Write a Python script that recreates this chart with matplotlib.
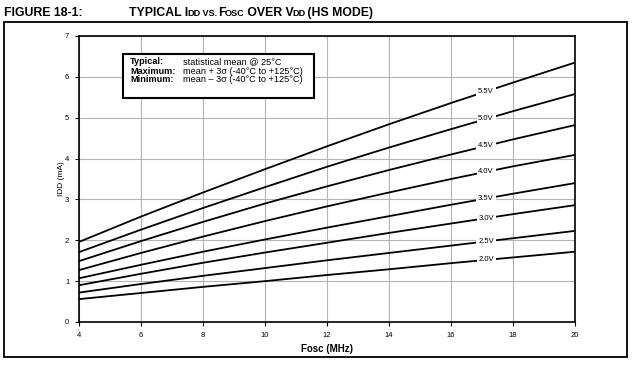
import matplotlib
matplotlib.use("Agg")
import matplotlib.pyplot as plt
from matplotlib.patches import Rectangle
import numpy as np

plt.rcParams['font.family'] = ['Liberation Sans', 'DejaVu Sans']

# Fosc (MHz) and IDD (mA)
fosc = [4, 6, 8, 10, 12, 14, 16, 18, 20]
idd_55 = [1.96, 2.58, 3.17, 3.74, 4.30, 4.84, 5.36, 5.86, 6.35]
idd_50 = [1.71, 2.26, 2.79, 3.30, 3.80, 4.27, 4.72, 5.16, 5.58]
idd_45 = [1.49, 1.98, 2.45, 2.90, 3.32, 3.72, 4.10, 4.47, 4.82]
idd_40 = [1.27, 1.69, 2.09, 2.47, 2.83, 3.17, 3.50, 3.81, 4.09]
idd_35 = [1.07, 1.40, 1.72, 2.02, 2.31, 2.59, 2.87, 3.14, 3.40]
idd_30 = [0.90, 1.18, 1.45, 1.70, 1.94, 2.18, 2.41, 2.64, 2.86]
idd_25 = [0.72, 0.93, 1.13, 1.32, 1.51, 1.69, 1.87, 2.05, 2.23]
idd_20 = [0.56, 0.71, 0.86, 1.00, 1.15, 1.29, 1.44, 1.58, 1.72]

series = [('5.5V', idd_55), ('5.0V', idd_50), ('4.5V', idd_45), ('4.0V', idd_40),
          ('3.5V', idd_35), ('3.0V', idd_30), ('2.5V', idd_25), ('2.0V', idd_20)]

W, H = 633, 365
fig = plt.figure(figsize=(W / 100, H / 100), dpi=100)

# outer frame
fig.patches.append(Rectangle((4 / W, 1 - 357 / H), 623 / W, 335 / H, transform=fig.transFigure,
                             fill=False, edgecolor='black', linewidth=1.3))

ax = fig.add_axes([79 / W, 1 - 322 / H, 496 / W, 286 / H])
ax.set_xlim(4, 20)
ax.set_ylim(0, 7)
ax.set_xticks(range(4, 21, 2))
ax.set_yticks(range(0, 8))
ax.grid(True, color='#b4b4b4', linewidth=0.8)
ax.set_axisbelow(True)
for sp in ax.spines.values():
    sp.set_linewidth(1.2)
ax.tick_params(labelsize=5.5, length=3, width=0.8, pad=4)

label_x = 17.13
for name, vals in series:
    ax.plot(fosc, vals, color='black', linewidth=1.3)
    ax.text(label_x, np.interp(label_x, fosc, vals), name, fontsize=5.5, ha='center', va='center',
            bbox=dict(facecolor='white', edgecolor='none', pad=1.2))

ax.set_xlabel('Fosc (MHz)', fontsize=7, fontweight='bold', labelpad=4)
ax.set_ylabel('IDD (mA)', fontsize=6, labelpad=0)

# legend box with definitions
ax.add_patch(Rectangle((123 / W, 1 - 98 / H), 191 / W, 44 / H, transform=fig.transFigure,
                       facecolor='white', edgecolor='black', linewidth=1.5, zorder=5))
rows = [('Typical:', 'statistical mean @ 25°C'),
        ('Maximum:', 'mean + 3σ (-40°C to +125°C)'),
        ('Minimum:', 'mean – 3σ (-40°C to +125°C)')]
for i, (k, v) in enumerate(rows):
    y = 1 - (64.5 + 9 * i) / H
    fig.text(130 / W, y, k, fontsize=6.6, fontweight='bold', va='baseline', zorder=6)
    fig.text(183 / W, y, v, fontsize=6.6, va='baseline', zorder=6)

# title with small caps pieces
fig.text(4 / W, 1 - 16 / H, 'FIGURE 18-1:', fontsize=8.8, fontweight='bold', va='baseline')
renderer = fig.canvas.get_renderer()
pieces = [('TYPICAL I', 8.8), ('DD', 6.6), (' VS. ', 6.6), ('F', 8.8), ('OSC', 6.6),
          (' OVER V', 8.8), ('DD', 6.6), (' (HS MODE)', 8.8)]
px = 129
for s, size in pieces:
    t = fig.text(px / W, 1 - 16 / H, s, fontsize=size, fontweight='bold', va='baseline')
    bb = t.get_window_extent(renderer)
    px = bb.x1 - 1

fig.savefig('out.png', dpi=100)
